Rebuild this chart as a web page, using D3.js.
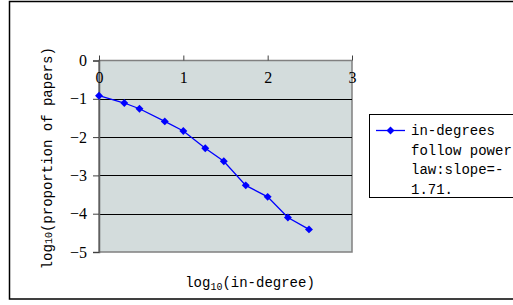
<!DOCTYPE html>
<html>
<head>
<meta charset="utf-8">
<script src="https://cdn.jsdelivr.net/npm/d3@7"></script>
<style>
  body { margin: 0; background: #fff; }
  svg { display: block; }
  .mono { font-family: "Liberation Mono", "DejaVu Sans Mono", monospace; }
  .serif { font-family: "Liberation Serif", "DejaVu Serif", serif; }
</style>
</head>
<body>
<svg id="viz"></svg>
<script>
const width = 513;
const height = 305;

// log10(in-degree) vs log10(proportion of papers)
const xValues = [0, 0.30, 0.48, 0.78, 1.0, 1.26, 1.48, 1.74, 2.0, 2.24, 2.49];
const yValues = [-0.92, -1.11, -1.26, -1.59, -1.84, -2.29, -2.63, -3.26, -3.56, -4.10, -4.41];
const xTicks = [0, 1, 2, 3];
const yTicks = [0, -1, -2, -3, -4, -5];
const legendLines = ["in-degrees", "follow power", "law:slope=-", "1.71."];

const points = xValues.map((x, i) => ({ x: x, y: yValues[i] }));

const svg = d3.select("#viz").attr("width", width).attr("height", height);

// outer frame (runs off the right edge)
svg.append("rect")
    .attr("x", 9.5).attr("y", 1.5)
    .attr("width", 520).attr("height", 297.5)
    .attr("fill", "#fff")
    .attr("stroke", "#000")
    .attr("stroke-width", 1.5);

const plot = { left: 99, right: 352, top: 60.5, bottom: 252 };

const x = d3.scaleLinear().domain([0, 3]).range([plot.left, plot.right]);
const y = d3.scaleLinear().domain([0, -5]).range([plot.top, plot.bottom]);

// plot area
svg.append("rect")
    .attr("x", plot.left).attr("y", plot.top)
    .attr("width", plot.right - plot.left).attr("height", plot.bottom - plot.top)
    .attr("fill", "#d3dcdc")
    .attr("stroke", "#808080")
    .attr("stroke-width", 1.5);

// gridlines
svg.append("g")
    .selectAll("line")
    .data(yTicks.filter(d => d !== 0 && d !== -5))
    .enter()
    .append("line")
    .attr("x1", plot.left).attr("x2", plot.right)
    .attr("y1", d => Math.round(y(d)) + 0.5).attr("y2", d => Math.round(y(d)) + 0.5)
    .attr("stroke", "#000")
    .attr("stroke-width", 1);

// y axis
const yAxis = svg.append("g")
    .attr("transform", `translate(${plot.left},0)`)
    .call(d3.axisLeft(y).tickValues(yTicks).tickSize(6).tickPadding(6)
        .tickFormat(d => d === 0 ? "0" : "\u2212" + Math.abs(d)));
yAxis.attr("font-family", null).attr("font-size", null);
yAxis.select(".domain").attr("stroke", "#606060").attr("stroke-width", 1.5);
yAxis.selectAll(".tick line").attr("stroke", "#404040");
yAxis.selectAll("text")
    .attr("class", "serif")
    .style("font-size", "16px")
    .attr("fill", "#000");

// x axis at y = 0 (top), labels drawn under the line
const xAxis = svg.append("g")
    .attr("transform", `translate(0,${y(0)})`)
    .call(d3.axisTop(x).tickValues(xTicks).tickSize(5).tickFormat(d3.format("d")));
xAxis.attr("font-family", null).attr("font-size", null);
xAxis.select(".domain").remove();
xAxis.selectAll(".tick line").attr("stroke", "#404040");
xAxis.selectAll("text")
    .attr("class", "serif")
    .attr("y", 17)
    .attr("dy", "0.35em")
    .style("font-size", "16px")
    .attr("fill", "#000");

// series
const line = d3.line().x(d => x(d.x)).y(d => y(d.y));
svg.append("path")
    .datum(points)
    .attr("d", line)
    .attr("fill", "none")
    .attr("stroke", "#0000ff")
    .attr("stroke-width", 1.3);

const diamond = d3.symbol().type(d3.symbolDiamond2).size(40);
svg.append("g")
    .selectAll("path")
    .data(points)
    .enter()
    .append("path")
    .attr("d", diamond)
    .attr("transform", d => `translate(${x(d.x)},${y(d.y)})`)
    .attr("fill", "#0000ff");

// axis titles
svg.append("text")
    .attr("class", "mono")
    .attr("transform", `translate(52,${(plot.top + plot.bottom) / 2 + 2}) rotate(-90)`)
    .attr("text-anchor", "middle")
    .style("font-size", "14px")
    .attr("fill", "#000")
    .call(t => {
        t.append("tspan").text("log");
        t.append("tspan").style("font-size", "10px").text("10");
        t.append("tspan").text("(proportion of papers)");
    });

svg.append("text")
    .attr("class", "mono")
    .attr("x", 250).attr("y", 287)
    .attr("text-anchor", "middle")
    .style("font-size", "14px")
    .attr("fill", "#000")
    .call(t => {
        t.append("tspan").text("log");
        t.append("tspan").style("font-size", "10px").attr("dy", 3).text("10");
        t.append("tspan").attr("dy", -3).text("(in-degree)");
    });

// legend
const legend = svg.append("g");
legend.append("rect")
    .attr("x", 369.5).attr("y", 114.5)
    .attr("width", 160).attr("height", 83)
    .attr("fill", "#fff")
    .attr("stroke", "#000")
    .attr("stroke-width", 1);
legend.append("line")
    .attr("x1", 376).attr("x2", 405)
    .attr("y1", 130.5).attr("y2", 130.5)
    .attr("stroke", "#0000ff").attr("stroke-width", 1.3);
legend.append("path")
    .attr("d", diamond)
    .attr("transform", "translate(390.5,130.5)")
    .attr("fill", "#0000ff");
legend.selectAll("text.item")
    .data(legendLines)
    .enter()
    .append("text")
    .attr("class", "item mono")
    .attr("x", 411)
    .attr("y", (d, i) => 135 + i * 19.5)
    .style("font-size", "14px")
    .attr("fill", "#000")
    .text(d => d);
</script>
</body>
</html>
